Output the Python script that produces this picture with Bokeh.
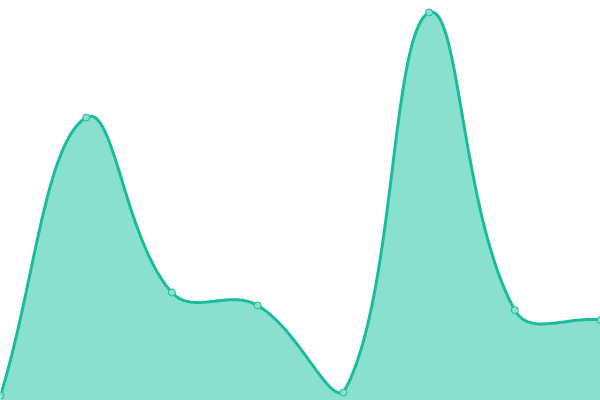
import numpy as np
from bokeh.plotting import figure
from bokeh.models import Range1d
from bokeh.embed import file_html
from bokeh.resources import INLINE

# data (index positions and values)
categories = [0, 1, 2, 3, 4, 5, 6, 7]
values = [5, 283, 108, 95, 8, 388, 90.5, 80.5]

W, H = 600, 400
X_MAX, Y_MAX = 7, 400
LINE = "#1abc9c"
FILL = "#8ae0cf"
TENSION = 0.4

p = figure(width=W, height=H, output_backend="svg", toolbar_location=None,
           x_range=Range1d(0, X_MAX), y_range=Range1d(0, Y_MAX),
           min_border=0, outline_line_color=None, background_fill_color="white",
           border_fill_color="white")
p.axis.visible = False
p.grid.visible = False

# smooth curve (cardinal spline in screen space, like a tension 0.4 spline)
sx = np.array(categories, float) * W / X_MAX
sy = np.array(values, float) * H / Y_MAX
n = len(sx)
cps = []
for i in range(n):
    pi = max(i - 1, 0)
    ni = min(i + 1, n - 1)
    d01 = np.hypot(sx[i] - sx[pi], sy[i] - sy[pi])
    d12 = np.hypot(sx[ni] - sx[i], sy[ni] - sy[i])
    s = d01 + d12
    fa = TENSION * d01 / s if s else 0
    fb = TENSION * d12 / s if s else 0
    dx, dy = sx[ni] - sx[pi], sy[ni] - sy[pi]
    prev_cp = (np.clip(sx[i] - fa * dx, 0, W), np.clip(sy[i] - fa * dy, 0, H))
    next_cp = (np.clip(sx[i] + fb * dx, 0, W), np.clip(sy[i] + fb * dy, 0, H))
    cps.append((prev_cp, next_cp))

t = np.linspace(0, 1, 60)
cx, cy = [], []
for i in range(n - 1):
    x0, y0 = sx[i], sy[i]
    x1, y1 = cps[i][1]
    x2, y2 = cps[i + 1][0]
    x3, y3 = sx[i + 1], sy[i + 1]
    bx = (1 - t) ** 3 * x0 + 3 * (1 - t) ** 2 * t * x1 + 3 * (1 - t) * t ** 2 * x2 + t ** 3 * x3
    by = (1 - t) ** 3 * y0 + 3 * (1 - t) ** 2 * t * y1 + 3 * (1 - t) * t ** 2 * y2 + t ** 3 * y3
    if i > 0:
        bx, by = bx[1:], by[1:]
    cx.extend(bx)
    cy.extend(by)
cx = np.array(cx) * X_MAX / W
cy = np.array(cy) * Y_MAX / H

px = np.concatenate([[cx[0]], cx, [cx[-1]]])
py = np.concatenate([[0], cy, [0]])
p.patch(px, py, fill_color=FILL, line_color=None)
p.line(cx, cy, line_color=LINE, line_width=3, line_join="round")
p.scatter(categories, values, size=7, fill_color=FILL,
          line_color=LINE, line_width=1)

html = file_html(p, INLINE)
html = html.replace("<body>", '<body style="margin:0">', 1)
open("out.html", "w").write(html)
